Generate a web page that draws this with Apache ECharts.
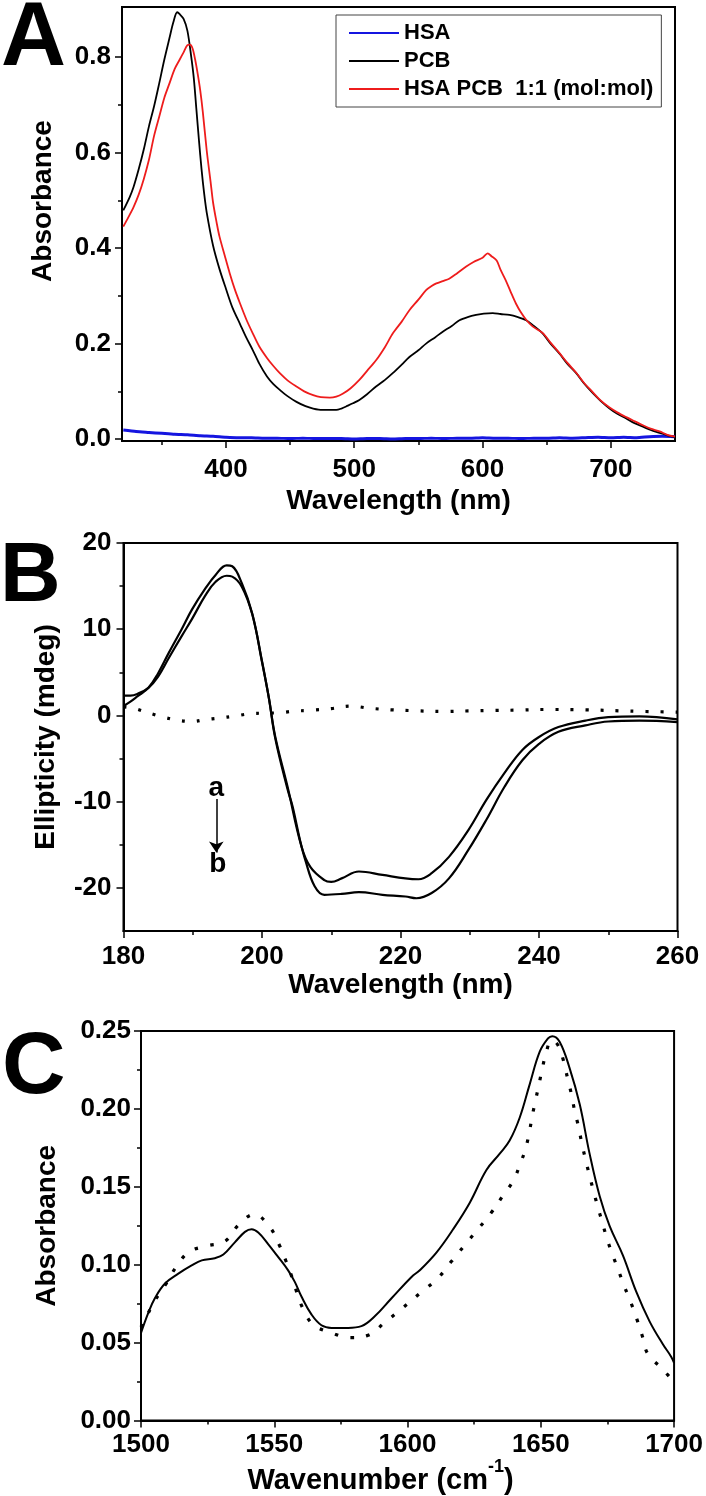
<!DOCTYPE html>
<html><head><meta charset="utf-8">
<script src="https://cdn.jsdelivr.net/npm/echarts@6/dist/echarts.min.js"></script>
<style>html,body{margin:0;padding:0;background:#fff}#c{width:706px;height:1496px}</style>
</head><body><div id="c"></div>
<script>
const FONT = '"Liberation Sans", Arial, Helvetica, sans-serif';

// ---------- Panel A : UV-Vis absorbance ----------
const aNamePCB = 'PCB';
const aNameHSA = 'HSA';
const aNameMix = 'HSA PCB  1:1 (mol:mol)';
const aPcbX = [320,325,328,332,336,340,344,348,352,356,359,362,364,367,370,373,375,377,379,381,383,385,390,395,400,405,411,416,421,426,432,437,442,448,455,462,468,475,480,486,490,495,499,504,510,517,524,530,537,543,550,556,563,569,576,582,589,595,601,608,614,621,627,634,640,647,653,660,666,673,679,686,692,699,705,712,718,725,731,738,744,750];
const aPcbY = [0.479,0.507,0.528,0.565,0.607,0.655,0.697,0.745,0.795,0.840,0.873,0.894,0.890,0.880,0.855,0.800,0.755,0.690,0.625,0.565,0.515,0.475,0.405,0.356,0.315,0.276,0.241,0.212,0.186,0.158,0.131,0.115,0.103,0.090,0.078,0.069,0.064,0.061,0.061,0.061,0.064,0.070,0.075,0.082,0.094,0.110,0.124,0.138,0.156,0.172,0.186,0.200,0.213,0.225,0.237,0.249,0.256,0.260,0.263,0.264,0.262,0.260,0.256,0.249,0.237,0.221,0.200,0.179,0.158,0.138,0.117,0.096,0.080,0.064,0.053,0.043,0.034,0.026,0.019,0.013,0.008,0.004];
const aMixX = [320,324,328,332,336,340,344,348,352,356,360,364,367,370,372,374,376,378,380,382,385,388,390,393,395,399,403,407,411,416,421,426,432,437,442,448,455,461,468,474,481,486,491,497,504,510,517,524,530,537,543,550,556,560,564,569,574,580,587,593,600,604,607,611,614,618,622,626,630,634,639,647,653,660,666,673,679,686,692,699,705,712,718,725,731,738,744,750];
const aMixY = [0.445,0.465,0.486,0.512,0.545,0.585,0.635,0.675,0.715,0.745,0.775,0.795,0.810,0.825,0.826,0.818,0.795,0.765,0.730,0.685,0.605,0.540,0.495,0.450,0.424,0.385,0.347,0.313,0.284,0.250,0.221,0.194,0.170,0.153,0.138,0.123,0.110,0.100,0.092,0.088,0.087,0.089,0.095,0.106,0.124,0.143,0.165,0.193,0.221,0.246,0.270,0.292,0.312,0.320,0.326,0.331,0.336,0.347,0.361,0.371,0.380,0.389,0.383,0.374,0.355,0.333,0.308,0.284,0.265,0.250,0.236,0.222,0.202,0.180,0.160,0.139,0.118,0.098,0.081,0.066,0.056,0.046,0.038,0.029,0.022,0.016,0.009,0.005];
const aHsaX = [320,330,340,350,360,370,380,390,400,410,420,430,440,450,460,470,480,490,500,510,520,530,540,550,560,570,580,590,600,610,620,630,640,650,660,670,680,690,700,710,720,730,740,750];
const aHsaY = [0.019,0.016,0.014,0.012,0.010,0.009,0.007,0.006,0.004,0.003,0.003,0.002,0.002,0.001,0.002,0.001,0.001,0.001,0.000,0.001,0.001,0.000,0.001,0.001,0.002,0.001,0.002,0.002,0.003,0.002,0.002,0.001,0.002,0.002,0.003,0.002,0.003,0.004,0.003,0.004,0.003,0.005,0.006,0.005];
const aXTicks = [400,500,600,700];
const aXMinor = [350,450,550,650];
const aYTicks = [0,0.2,0.4,0.6,0.8];
const aYMinor = [0.1,0.3,0.5,0.7];

// ---------- Panel B : CD spectra ----------
const bCurve1X = [180,181,182,183.6,185,186.5,188.4,189.9,191.8,193.3,194.9,195.7,197.1,198.6,200,201,201.9,203.7,205.7,207,209,210,211.5,214,217.4,220.7,222.6,224.5,227,229.8,232.4,235,237.6,240,242.8,246.7,250,254.5,260];
const bCurve1Y = [2.3,2.3,2.5,3.2,4.5,6.6,9.2,11.2,13.9,15.5,16.2,16.1,14.9,11.7,6.2,2.0,-2.4,-8.3,-15.2,-17.6,-19.1,-19.3,-18.9,-18.1,-18.5,-18.9,-19.0,-18.3,-16.4,-13.3,-9.8,-6.7,-4.0,-2.5,-1.35,-0.6,-0.2,-0.1,-0.45];
const bCurve2X = [180,181,182,183.6,185,186.5,188.4,189.9,191.8,193.3,194.9,195.7,197.1,198.6,200,201,201.9,203.7,204.4,205.5,206.3,207.6,209,211.5,214,217.4,220.7,222.3,224.5,227,229.8,232.4,235,237.6,240,242.8,246.7,250,254.5,260];
const bCurve2Y = [1.1,1.6,2.2,3.2,4.9,7.2,10.0,12.3,14.7,16.3,17.4,17.3,15.3,11.8,6.3,2.0,-2.6,-8.6,-10.5,-14.5,-16.9,-19.8,-20.8,-20.7,-20.5,-20.8,-21.0,-21.2,-20.6,-18.9,-15.6,-12.1,-8.3,-5.2,-3.3,-1.9,-1.15,-0.7,-0.6,-0.77];
const bDotX = [180,181.4,183.6,185.8,188,190,191.7,193.9,196,198.2,200.3,202.4,204.6,206.7,210,212.8,215.4,218.7,222,225.9,229.8,233.7,237.2,240.8,246.7,253.2,260];
const bDotY = [1.0,0.85,0.3,-0.2,-0.58,-0.7,-0.5,-0.3,-0.08,0.19,0.27,0.3,0.5,0.58,0.8,1.08,0.85,0.65,0.55,0.46,0.52,0.58,0.62,0.69,0.65,0.5,0.39];
const bXTicks = [180,200,220,240,260];
const bXMinor = [190,210,230,250];
const bYTicks = [-20,-10,0,10,20];
const bYMinor = [-15,-5,5,15];
const bArrowX = 193.4;
const bLabelA = -8.4;
const bLabelB = -17.3;
const bArrowFrom = -9.7;
const bArrowTo = -15.9;

// ---------- Panel C : FTIR ----------
const cSolidX = [1500,1502.7,1505.2,1509,1514,1519,1522.8,1527.7,1530.9,1535.2,1539,1541.5,1544,1547.7,1551.5,1555.2,1557.7,1560.2,1564,1567.7,1571.5,1577.7,1582.7,1587.7,1594,1601.5,1604.6,1610.9,1617.1,1623.3,1629.6,1634.6,1638.3,1642.1,1645.8,1649.6,1652.7,1654.3,1657.1,1660.8,1664.6,1668.3,1672.1,1675.8,1680.8,1685.8,1690.8,1695.8,1698.9,1700];
const cSolidY = [0.0563,0.069,0.0785,0.088,0.0943,0.0996,0.1028,0.1042,0.1066,0.1144,0.1211,0.1228,0.1207,0.1133,0.1049,0.0964,0.089,0.0796,0.068,0.0612,0.0595,0.0595,0.0606,0.0669,0.0785,0.0922,0.0965,0.108,0.1228,0.1397,0.1608,0.1713,0.1797,0.1945,0.2156,0.2367,0.2452,0.2467,0.243,0.2262,0.203,0.1713,0.1439,0.1249,0.106,0.0827,0.0637,0.049,0.041,0.037];
const cDotX = [1500,1502.1,1505.2,1509.3,1513,1518,1524.6,1531.5,1536.5,1542.5,1548.4,1551.7,1554.2,1556.5,1558.5,1560.8,1564.6,1571.5,1578.4,1585.2,1591.5,1598.1,1604.6,1611.5,1616.5,1621.5,1626.4,1631.2,1635.6,1639.8,1642.3,1644.3,1645.8,1646.8,1648.1,1649.3,1650.6,1652.1,1654,1656.4,1658.6,1660,1661.5,1662.7,1664.2,1665.4,1666.8,1668.3,1669.8,1671.4,1673.1,1674.8,1676.8,1679.1,1681.4,1683.9,1686.1,1688.1,1690.1,1695.7,1700];
const cDotY = [0.060,0.0669,0.077,0.0876,0.0981,0.1082,0.112,0.115,0.1253,0.1323,0.1239,0.1133,0.1032,0.0927,0.0821,0.0718,0.0616,0.0563,0.0532,0.0547,0.0631,0.0722,0.0816,0.0916,0.1022,0.1127,0.1228,0.1329,0.1439,0.1544,0.165,0.1745,0.1861,0.1956,0.2061,0.2156,0.2262,0.2367,0.2441,0.241,0.2304,0.2199,0.2093,0.1987,0.1882,0.1777,0.1675,0.157,0.1471,0.137,0.127,0.1169,0.107,0.0965,0.0859,0.0753,0.0648,0.0542,0.043,0.033,0.0247];
const cXTicks = [1500,1550,1600,1650,1700];
const cXMinor = [1525,1575,1625,1675];
const cYTicks = [0,0.05,0.10,0.15,0.20,0.25];
const cYMinor = [0.025,0.075,0.125,0.175,0.225];

// ---------- build ----------
const zip = (xs, ys) => xs.map((x, i) => [x, ys[i]]);
const BOLD = {fontWeight: 'bold', color: '#000', fontFamily: FONT};
const TICK_FS = 26, TITLE_FS = 28;

function mainX(grid, min, max, ticks, name, nameGap, labelMargin, extraName) {
  return {
    type: 'value', gridIndex: grid, min, max, position: 'bottom',
    axisLine: {onZero: false, lineStyle: {color: '#000', width: 2}},
    axisTick: {show: true, customValues: ticks, length: 7, lineStyle: {color: '#000', width: 1.5}},
    axisLabel: {show: true, customValues: ticks, formatter: v => String(v), fontSize: TICK_FS, margin: labelMargin, ...BOLD},
    splitLine: {show: false},
    name, nameLocation: 'middle', nameGap,
    nameTextStyle: Object.assign({fontSize: TITLE_FS, ...BOLD}, extraName || {})
  };
}
function minorX(grid, min, max, ticks) {
  return {
    type: 'value', gridIndex: grid, min, max, position: 'bottom',
    axisLine: {show: false, onZero: false},
    axisTick: {show: true, customValues: ticks, length: 4, lineStyle: {color: '#000', width: 1.5}},
    axisLabel: {show: false}, splitLine: {show: false}
  };
}
function mainY(grid, min, max, ticks, fmt, name, nameGap, labelMargin, namePad) {
  return {
    type: 'value', gridIndex: grid, min, max, position: 'left',
    axisLine: {onZero: false, lineStyle: {color: '#000', width: 2}},
    axisTick: {show: true, customValues: ticks, length: 7, lineStyle: {color: '#000', width: 1.5}},
    axisLabel: {show: true, customValues: ticks, formatter: fmt, fontSize: TICK_FS, margin: labelMargin, ...BOLD},
    splitLine: {show: false},
    name, nameLocation: 'middle', nameGap,
    nameTextStyle: {fontSize: TITLE_FS, padding: namePad || 0, ...BOLD}
  };
}
function minorY(grid, min, max, ticks) {
  return {
    type: 'value', gridIndex: grid, min, max, position: 'left',
    axisLine: {show: false, onZero: false},
    axisTick: {show: true, customValues: ticks, length: 4, lineStyle: {color: '#000', width: 1.5}},
    axisLabel: {show: false}, splitLine: {show: false}
  };
}

const gridBase = {show: true, borderColor: '#000', borderWidth: 2, containLabel: false};
const A_MIN = 319, A_MAX = 750, AY_MIN = -0.004, AY_MAX = 0.905;

const option = {
  animation: false,
  backgroundColor: '#fff',
  textStyle: {fontFamily: FONT},
  title: [
    {text: 'A', left: 1, top: -5, padding: 0, textStyle: {fontSize: 90, ...BOLD}},
    {text: 'B', left: 0, top: 536, padding: 0, textStyle: {fontSize: 84, ...BOLD}},
    {text: 'C', left: 2, top: 1025, padding: 0, textStyle: {fontSize: 88, ...BOLD}}
  ],
  grid: [
    Object.assign({left: 122, top: 7, width: 553, height: 434}, gridBase),
    Object.assign({left: 123.5, top: 543, width: 554, height: 388}, gridBase),
    Object.assign({left: 141, top: 1031, width: 533.5, height: 395}, gridBase)
  ],
  xAxis: [
    mainX(0, A_MIN, A_MAX, aXTicks, 'Wavelength (nm)', 46, 16),
    minorX(0, A_MIN, A_MAX, aXMinor),
    mainX(1, 180, 260, bXTicks, 'Wavelength (nm)', 38, 13),
    minorX(1, 180, 260, bXMinor),
    mainX(2, 1500, 1700, cXTicks, 'Wavenumber (cm{sup|-1})', 35, 11,
      {fontSize: 29, padding: [0, 54, 0, 0],
       rich: {sup: {fontSize: 18, fontWeight: 'bold', color: '#000', fontFamily: FONT, padding: [0, 0, 26, 0]}}}),
    minorX(2, 1500, 1700, cXMinor)
  ],
  yAxis: [
    mainY(0, AY_MIN, AY_MAX, aYTicks, v => v.toFixed(1), 'Absorbance', 65, 11, [0, 0, 0, 46]),
    minorY(0, AY_MIN, AY_MAX, aYMinor),
    mainY(1, -25, 20, bYTicks, v => String(v), 'Ellipticity (mdeg)', 63, 12),
    minorY(1, -25, 20, bYMinor),
    mainY(2, 0, 0.25, cYTicks, v => v.toFixed(2), 'Absorbance', 80, 10),
    minorY(2, 0, 0.25, cYMinor)
  ],
  legend: {
    data: [aNameHSA, aNamePCB, aNameMix],
    left: 336, top: 15, orient: 'vertical',
    padding: [7, 8, 7, 12], itemGap: 6, itemWidth: 50, itemHeight: 22,
    borderColor: '#444', borderWidth: 1, backgroundColor: '#fff',
    textStyle: {fontSize: 22, ...BOLD},
    itemStyle: {opacity: 0}
  },
  series: [
    {name: aNameHSA, type: 'line', xAxisIndex: 0, yAxisIndex: 0, symbol: 'none', smooth: 0.2,
      data: zip(aHsaX, aHsaY), lineStyle: {color: '#1515e0', width: 3}, itemStyle: {color: '#1515e0'}, z: 3},
    {name: aNamePCB, type: 'line', xAxisIndex: 0, yAxisIndex: 0, symbol: 'none', smooth: 0.3,
      data: zip(aPcbX, aPcbY), lineStyle: {color: '#000', width: 1.8}, itemStyle: {color: '#000'}, z: 3},
    {name: aNameMix, type: 'line', xAxisIndex: 0, yAxisIndex: 0, symbol: 'none', smooth: 0.3,
      data: zip(aMixX, aMixY), lineStyle: {color: '#ee1c1c', width: 1.8}, itemStyle: {color: '#ee1c1c'}, z: 4},

    {name: 'b1', type: 'line', xAxisIndex: 2, yAxisIndex: 2, symbol: 'none', smooth: 0.4,
      data: zip(bCurve1X, bCurve1Y), lineStyle: {color: '#000', width: 2.2}},
    {name: 'b2', type: 'line', xAxisIndex: 2, yAxisIndex: 2, symbol: 'none', smooth: 0.4,
      data: zip(bCurve2X, bCurve2Y), lineStyle: {color: '#000', width: 2.2},
      markLine: {silent: true, symbol: ['none', 'arrow'], symbolSize: 11, animation: false, precision: 2,
        lineStyle: {color: '#000', width: 1.5, type: 'solid'}, label: {show: false},
        emphasis: {disabled: true},
        data: [[{coord: [bArrowX, bArrowFrom], symbol: 'none'}, {coord: [bArrowX, bArrowTo], symbol: 'arrow', symbolSize: 11}]]},
      markPoint: {silent: true, symbol: 'rect', symbolSize: 1, itemStyle: {color: 'rgba(0,0,0,0)'},
        label: {show: true, position: 'inside', formatter: p => p.name, fontSize: 28, ...BOLD},
        data: [{name: 'a', coord: [bArrowX, bLabelA]}, {name: 'b', coord: [bArrowX + 0.2, bLabelB]}]}},
    {name: 'b0', type: 'line', xAxisIndex: 2, yAxisIndex: 2, symbol: 'none', smooth: 0.4,
      data: zip(bDotX, bDotY), lineStyle: {color: '#000', width: 3.2, type: [3, 12]}},

    {name: 'c1', type: 'line', xAxisIndex: 4, yAxisIndex: 4, symbol: 'none', smooth: 0.4,
      data: zip(cSolidX, cSolidY), lineStyle: {color: '#000', width: 2}},
    {name: 'c0', type: 'line', xAxisIndex: 4, yAxisIndex: 4, symbol: 'none', smooth: 0.4,
      data: zip(cDotX, cDotY), lineStyle: {color: '#000', width: 3.2, type: [3.5, 12.5]}}
  ]
};

const chart = echarts.init(document.getElementById('c'), null, {renderer: 'canvas'});
chart.setOption(option);
</script>
</body></html>
